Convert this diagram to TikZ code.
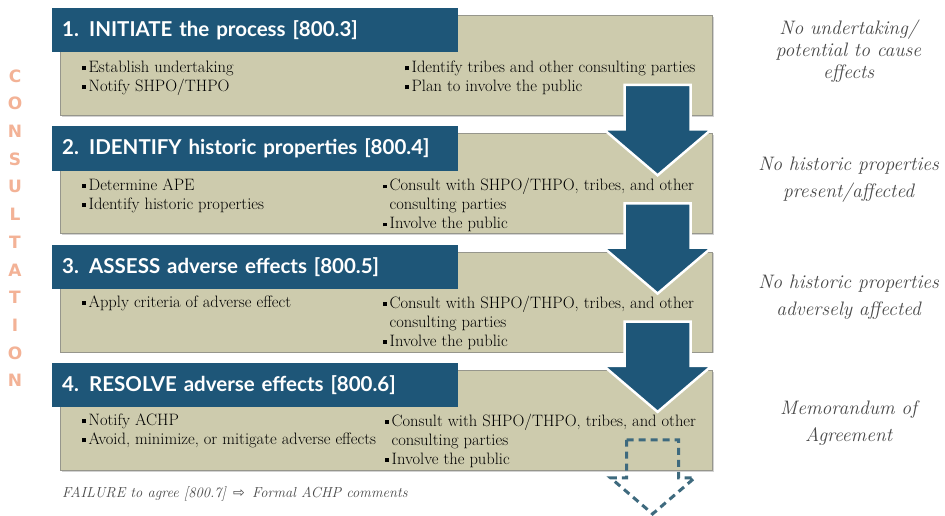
\documentclass[tikz,border=0pt]{standalone}
\usepackage{fontspec}
\newfontfamily\headfont{Lato}
\newfontfamily\sidefont{DejaVu Sans}
\newfontfamily\symfont{DejaVu Sans}
\usetikzlibrary{calc}
\usetikzlibrary{positioning}
\usetikzlibrary{shadows}
\definecolor{hdblue}{RGB}{30,86,120}
\definecolor{khaki}{RGB}{205,203,173}
\definecolor{bodyline}{RGB}{150,150,140}
\definecolor{notegray}{RGB}{72,72,72}
\definecolor{salmon}{RGB}{243,178,150}
\definecolor{ghost}{RGB}{62,106,126}
\newcommand{\bul}{\rule[0.35ex]{3.8pt}{3.8pt}\hspace{2.6pt}}
\newcommand{\ind}{\hspace{6.4pt}}

\begin{document}
\begin{tikzpicture}[x=1pt,y=-1pt,node distance=17.7pt]
 \tikzstyle{body}=[draw=bodyline, line width=0.6pt, fill=khaki, minimum width=652pt, minimum height=100pt, inner sep=0pt, drop shadow={shadow xshift=1.5pt,shadow yshift=-1.5pt,opacity=0.35}]
 \tikzstyle{head}=[fill=hdblue, text=white, font=\headfont\bfseries\fontsize{20.5}{22}\selectfont, text width=386pt, inner xsep=10pt, minimum height=44pt, align=left, anchor=north west]
 \tikzstyle{item}=[font=\fontsize{16.5}{19}\selectfont, align=left, anchor=north west, inner sep=0pt]
 \tikzstyle{note}=[font=\itshape\fontsize{19.5}{27}\selectfont, text=notegray, align=center]
 \tikzstyle{letter}=[font=\sidefont\bfseries\fontsize{17}{17}\selectfont, text=salmon]
 \tikzstyle{bigarrow}=[fill=hdblue, draw=white, line width=2.5pt, line join=miter]
 \tikzstyle{ghostarrow}=[draw=ghost, line width=3pt, dash pattern=on 7pt off 5pt]
 \useasboundingbox[fill=white] (0,0) rectangle (945,516);
 % step bodies
 \node[body, anchor=north west] (B1) at (60,15) {};
 \node[body, below=of B1] (B2) {};
 \node[body, below=of B2] (B3) {};
 \node[body, below=of B3] (B4) {};
 % step titles
 \node[head] (H1) at ($(B1.north west)+(-8,-7)$) {1. INITIATE the process [800.3]};
 \node[head] (H2) at ($(B2.north west)+(-8,-7)$) {2. IDENTIFY historic properties [800.4]};
 \node[head] (H3) at ($(B3.north west)+(-8,-7)$) {3. ASSESS adverse effects [800.5]};
 \node[head] (H4) at ($(B4.north west)+(-8,-7)$) {4. RESOLVE adverse effects [800.6]};
 % bullet lists
 \node[item] (L1) at ($(H1.north west)+(30,53)$) {\bul Establish undertaking\\\bul Notify SHPO/THPO};
 \node[item] (R1) at ($(H1.north west)+(353,53)$) {\bul Identify tribes and other consulting parties\\\bul Plan to involve the public};
 \node[item] (L2) at ($(H2.north west)+(30,52)$) {\bul Determine APE\\\bul Identify historic properties};
 \node[item] (R2) at ($(H2.north west)+(331,52)$) {\bul Consult with SHPO/THPO, tribes, and other\\\ind consulting parties\\\bul Involve the public};
 \node[item] (L3) at ($(H3.north west)+(30,51)$) {\bul Apply criteria of adverse effect};
 \node[item] (R3) at ($(H3.north west)+(331,51)$) {\bul Consult with SHPO/THPO, tribes, and other\\\ind consulting parties\\\bul Involve the public};
 \node[item] (L4) at ($(H4.north west)+(30,51)$) {\bul Notify ACHP\\\bul Avoid, minimize, or mitigate adverse effects};
 \node[item] (R4) at ($(H4.north west)+(333,51)$) {\bul Consult with SHPO/THPO, tribes, and other\\\ind consulting parties\\\bul Involve the public};
 % exits
 \node[note, font=\itshape\fontsize{19.5}{22}\selectfont] (N1) at ($(B1.north east)+(136,36)$) {No undertaking/\\potential to cause\\effects};
 \node[note] (N2) at ($(B2.north east)+(136,46)$) {No historic properties\\present/affected};
 \node[note] (N3) at ($(B3.north east)+(136,46)$) {No historic properties\\adversely affected};
 \node[note] (N4) at ($(B4.north east)+(136,53)$) {Memorandum of\\Agreement};
 % side word
 \foreach \l [count=\i] in {C,O,N,S,U,L,T,A,T,I,O,N}
   \node[letter] (C\i) at (15,76+27.7*\i-27.7) {\l};
 % arrows between steps
 \foreach \a/\b in {B1/B2,B2/B3,B3/B4}{
   \coordinate (S) at ($(\a.north east)+(-55,70)$);
   \coordinate (T) at ($(\b.north east)+(-55,42)$);
   \draw[bigarrow] ($(S)+(-33,0)$) -- ($(S)+(33,0)$) -- ($(T)+(33,-46)$) -- ($(T)+(54,-46)$)
     -- (T) -- ($(T)+(-54,-46)$) -- ($(T)+(-33,-46)$) -- cycle;
 }
 \coordinate (S4) at ($(B4.north east)+(-60,70)$);
 \coordinate (T4) at ($(B4.north east)+(-60,144)$);
 \draw[ghostarrow] ($(S4)+(-26,0)$) -- ($(S4)+(26,0)$) -- ($(T4)+(26,-36)$) -- ($(T4)+(42,-36)$)
   -- (T4) -- ($(T4)+(-42,-36)$) -- ($(T4)+(-26,-36)$) -- cycle;
 % failure line
 \node[note, font=\itshape\fontsize{14.5}{15}\selectfont, anchor=base west, inner sep=0pt] (F) at (62,497) {FAILURE to agree [800.7]\enspace{\upshape\symfont\fontsize{14}{14}\selectfont ⇨}\enspace Formal\ ACHP comments};
\end{tikzpicture}
\end{document}
